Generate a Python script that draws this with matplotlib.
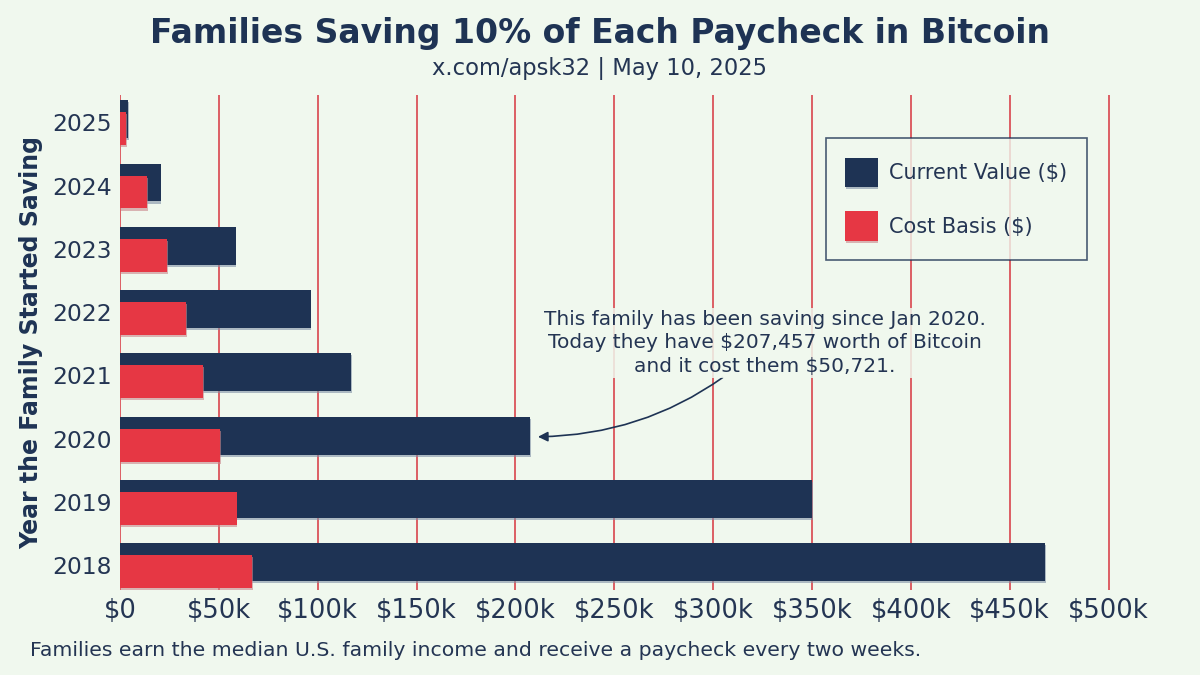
import matplotlib
matplotlib.use('Agg')
import matplotlib.pyplot as plt
import matplotlib.patheffects as pe

# data
years = ['2018', '2019', '2020', '2021', '2022', '2023', '2024', '2025']
current_value = [468000, 350000, 207457, 117000, 96500, 58500, 20500, 4000]
cost_basis = [66800, 59000, 50721, 42000, 33500, 23800, 13700, 3000]
xticks = [0, 50000, 100000, 150000, 200000, 250000, 300000, 350000, 400000, 450000, 500000]
xtick_labels = ['$0', '$50k', '$100k', '$150k', '$200k', '$250k', '$300k',
                '$350k', '$400k', '$450k', '$500k']

navy = '#1E3354'
red = '#E63744'
bg = '#F0F8EE'
txt = '#243553'
grid_red = '#D9454C'

plt.rcParams['font.family'] = ['DejaVu Sans']

fig = plt.figure(figsize=(12, 6.75), dpi=100, facecolor=bg)
ax = fig.add_axes([0.1, 0.126, 0.832, 0.733], facecolor=bg)

ypos = list(range(len(years)))
shadow_navy = [pe.SimplePatchShadow(offset=(0.5, -1.5), shadow_rgbFace='#8090a5', alpha=0.6), pe.Normal()]
shadow_red = [pe.SimplePatchShadow(offset=(0.5, -1.5), shadow_rgbFace='#c8868b', alpha=0.6), pe.Normal()]

b1 = ax.barh([y + 0.05 for y in ypos], current_value, height=0.6, color=navy,
             label='Current Value ($)', zorder=3)
b2 = ax.barh([y - 0.1 for y in ypos], cost_basis, height=0.52, color=red,
             label='Cost Basis ($)', zorder=4)
for p in b1:
    p.set_path_effects(shadow_navy)
for p in b2:
    p.set_path_effects(shadow_red)

ax.set_xlim(0, 505000)
ax.set_ylim(-0.39, 7.43)
ax.set_xticks(xticks)
ax.set_xticklabels(xtick_labels, fontsize=18.5, color=txt)
ax.set_yticks(ypos)
ax.set_yticklabels(years, fontsize=16.8, color=txt)
ax.tick_params(axis='both', length=0)
ax.tick_params(axis='x', pad=6)
ax.tick_params(axis='y', pad=6)
ax.grid(axis='x', color=grid_red, linewidth=1.2, zorder=0)
ax.set_axisbelow(True)
for s in ax.spines.values():
    s.set_visible(False)

ax.set_ylabel('Year the Family Started Saving', fontsize=17, fontweight='bold',
              color=navy, labelpad=6)

leg = ax.legend(loc='upper right', bbox_to_anchor=(0.9686, 0.9135), fontsize=15,
                frameon=True, fancybox=False, facecolor=bg, edgecolor=navy,
                handlelength=1.55, handleheight=1.8, borderpad=0.95, labelspacing=1.15,
                handletextpad=0.55, borderaxespad=0)
leg.get_frame().set_linewidth(1.2)
for t in leg.get_texts():
    t.set_color(txt)

ax.annotate('This family has been saving since Jan 2020.\n'
            'Today they have $207,457 worth of Bitcoin\n'
            'and it cost them $50,721.',
            xy=(210000, 2.03), xytext=(326000, 3.52),
            ha='center', va='center', fontsize=14.5, color=txt, linespacing=1.3,
            bbox=dict(boxstyle='square,pad=0.1', facecolor=bg, edgecolor='none', alpha=0.85),
            arrowprops=dict(arrowstyle='-|>', color=navy, lw=1.2,
                            connectionstyle='arc3,rad=-0.2', shrinkA=0, shrinkB=2),
            zorder=6)

fig.text(0.5, 0.95, 'Families Saving 10% of Each Paycheck in Bitcoin', ha='center',
         va='center', fontsize=23.8, fontweight='bold', color=navy)
fig.text(0.5, 0.899, 'x.com/apsk32 | May 10, 2025', ha='center', va='center',
         fontsize=16.3, color=txt)
fig.text(0.025, 0.037, 'Families earn the median U.S. family income and receive a paycheck every two weeks.',
         ha='left', va='center', fontsize=14.7, color=txt)

fig.savefig('out.png', dpi=100, facecolor=bg)
